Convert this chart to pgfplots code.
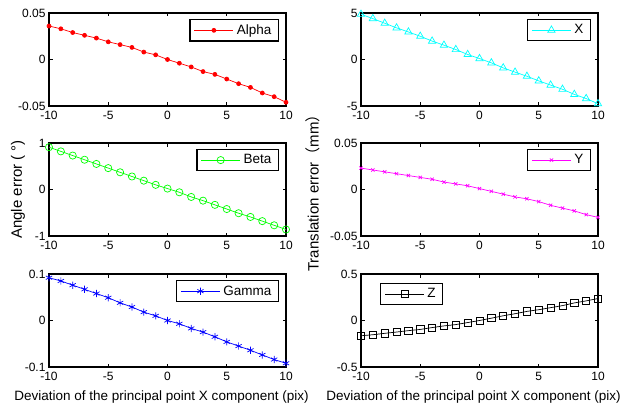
\documentclass[border=0pt]{standalone}
\usepackage{fontspec}
\setmainfont{Liberation Sans}
\newfontfamily\cjk{Noto Sans CJK SC}
\usepackage{pgfplots}
\pgfplotsset{compat=1.18}
\usepackage{pgfplotstable}
\definecolor{mred}{RGB}{255,0,0}
\definecolor{mgreen}{RGB}{0,255,0}
\definecolor{mblue}{RGB}{0,0,255}
\definecolor{mcyan}{RGB}{0,255,255}
\definecolor{mmag}{RGB}{255,0,255}

\pgfplotstableread{
x alpha beta gamma X Y Z
-10 0.036 0.91 0.092 4.86 0.023 -0.164
-9 0.033 0.82 0.085 4.40 0.021 -0.153
-8 0.029 0.73 0.076 3.90 0.019 -0.138
-7 0.026 0.64 0.067 3.40 0.017 -0.124
-6 0.023 0.55 0.058 2.96 0.015 -0.109
-5 0.019 0.46 0.049 2.50 0.013 -0.096
-4 0.016 0.37 0.038 1.98 0.011 -0.076
-3 0.013 0.28 0.029 1.54 0.008 -0.058
-2 0.008 0.19 0.018 1.07 0.006 -0.044
-1 0.005 0.10 0.010 0.54 0.004 -0.022
0 0.000 0.02 0.000 0.10 0.001 0.000
1 -0.004 -0.06 -0.007 -0.36 -0.002 0.025
2 -0.008 -0.16 -0.017 -0.90 -0.005 0.051
3 -0.013 -0.24 -0.025 -1.36 -0.008 0.073
4 -0.016 -0.33 -0.035 -1.80 -0.010 0.098
5 -0.021 -0.42 -0.046 -2.30 -0.013 0.116
6 -0.026 -0.51 -0.055 -2.75 -0.017 0.138
7 -0.030 -0.59 -0.064 -3.20 -0.020 0.160
8 -0.036 -0.68 -0.074 -3.75 -0.023 0.189
9 -0.040 -0.77 -0.084 -4.20 -0.027 0.211
10 -0.046 -0.86 -0.092 -4.75 -0.030 0.236
}\data

\pgfplotsset{
  myaxis/.style={
    scale only axis, width=237pt, height=93pt,
    xmin=-10, xmax=10, xtick={-10,-5,0,5,10},
    tick align=inside, major tick length=3.5pt,
    tick style={black, line width=0.7pt},
    axis line style={black, line width=1.1pt},
    ticklabel style={font=\fontsize{12}{13}\selectfont},
    xticklabel style={yshift=-2pt},
    /pgf/number format/assume math mode=true,
    scaled y ticks=false,
    yticklabel style={/pgf/number format/fixed, /pgf/number format/precision=2},
    legend style={draw=black, line width=1.4pt, font=\fontsize{13.5}{14}\selectfont,
      inner xsep=4pt, inner ysep=2pt, legend cell align=left,
      nodes={line width=0.7pt, inner xsep=3pt, inner ysep=3pt}},
    legend image code/.code={\draw[mark repeat=2,mark phase=2] plot coordinates {(0pt,0pt)(19.5pt,0pt)(39pt,0pt)};},
    every axis plot/.append style={line width=0.7pt},
    legNE/.style={legend style={at={(rel axis cs:1,1)}, anchor=north east, xshift=-7pt, yshift=-6pt}},
  }
}

\begin{document}
\begin{tikzpicture}
\path[use as bounding box] (0pt,0pt) rectangle (644pt,410pt);

% Alpha
\begin{axis}[myaxis, legNE, at={(49pt,304pt)}, anchor=south west,
  ymin=-0.05, ymax=0.05, ytick={-0.05,0,0.05}]
\addplot[mred, mark=*, mark size=2pt, mark options={fill=mred}] table[x=x,y=alpha]{\data};
\addlegendentry{Alpha}
\end{axis}

% X
\begin{axis}[myaxis, legNE, at={(361pt,304pt)}, anchor=south west,
  ymin=-5, ymax=5, ytick={-5,0,5}]
\addplot[mcyan, mark=triangle, mark size=4.2pt] table[x=x,y=X]{\data};
\addlegendentry{X}
\end{axis}

% Beta
\begin{axis}[myaxis, legNE, at={(49pt,174pt)}, anchor=south west,
  ymin=-1, ymax=1, ytick={-1,0,1},
  ylabel={Angle error ( °)},
  ylabel style={at={(rel axis cs:0,0.5)}, anchor=center, yshift=31pt, font=\fontsize{15}{16}\selectfont}]
\addplot[mgreen, mark=o, mark size=3.6pt] table[x=x,y=beta]{\data};
\addlegendentry{Beta}
\end{axis}

% Y
\begin{axis}[myaxis, legNE, at={(361pt,174pt)}, anchor=south west,
  ymin=-0.05, ymax=0.05, ytick={-0.05,0,0.05},
  ylabel={Translation error{\cjk（}mm{\cjk）}},
  ylabel style={at={(rel axis cs:0,0.5)}, anchor=center, yshift=48pt, font=\fontsize{15}{16}\selectfont}]
\addplot[mmag, mark=x, mark size=2.3pt] table[x=x,y=Y]{\data};
\addlegendentry{Y}
\end{axis}

% Gamma
\begin{axis}[myaxis, legNE, at={(49pt,43pt)}, anchor=south west,
  ymin=-0.1, ymax=0.1, ytick={-0.1,0,0.1},
  xlabel={Deviation of the principal point X component (pix)},
  xlabel style={at={(rel axis cs:0.5,0)}, anchor=center, yshift=-30pt, xshift=-6pt, font=\fontsize{13.5}{14}\selectfont}]
\addplot[mblue, mark=asterisk, mark size=3.6pt] table[x=x,y=gamma]{\data};
\addlegendentry{Gamma}
\end{axis}

% Z
\begin{axis}[myaxis, at={(361pt,43pt)}, anchor=south west,
  legend style={at={(rel axis cs:0,1)}, anchor=north west, xshift=19pt, yshift=-9pt},
  ymin=-0.5, ymax=0.5, ytick={-0.5,0,0.5},
  xlabel={Deviation of the principal point X component (pix)},
  xlabel style={at={(rel axis cs:0.5,0)}, anchor=center, yshift=-30pt, xshift=-6pt, font=\fontsize{13.5}{14}\selectfont}]
\addplot[black, mark=square, mark size=3.6pt] table[x=x,y=Z]{\data};
\addlegendentry{Z}
\end{axis}
\end{tikzpicture}
\end{document}
